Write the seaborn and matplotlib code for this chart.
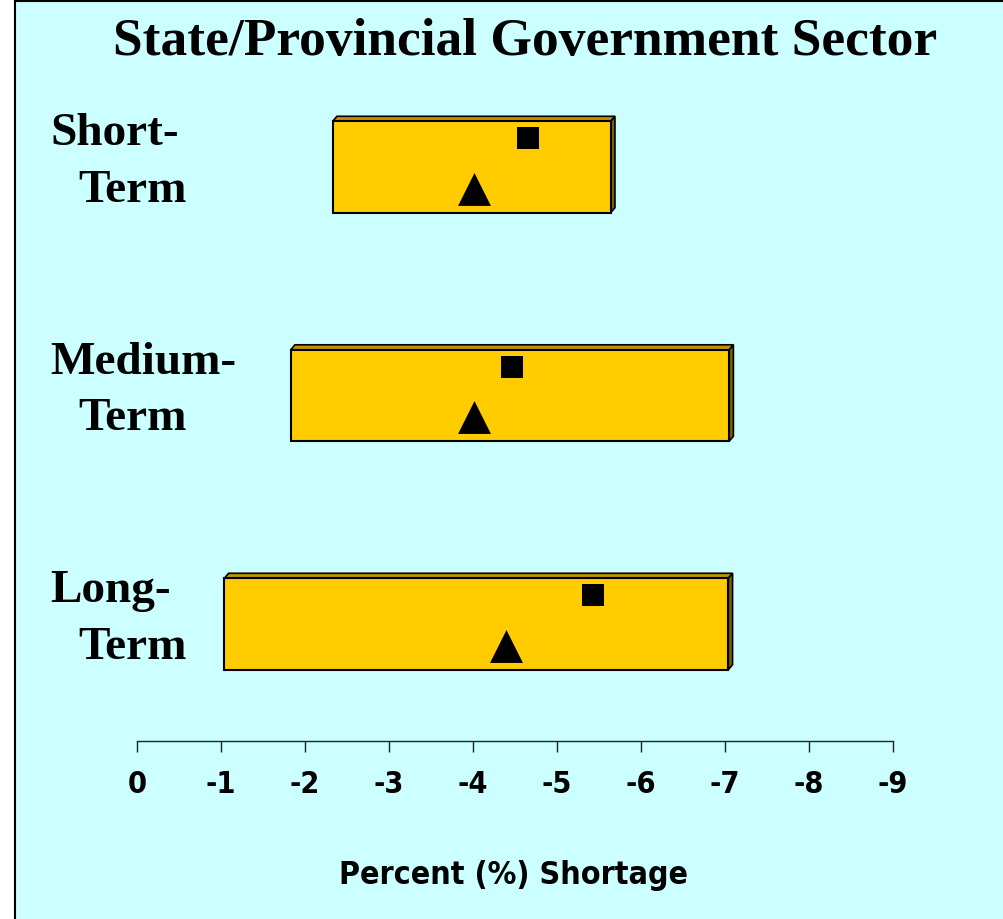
import matplotlib
matplotlib.use("Agg")
import matplotlib.pyplot as plt
from matplotlib.patches import Polygon, Rectangle
from matplotlib.lines import Line2D
import pandas as pd
import seaborn as sns

# ─── Data ─────────────────────────────────────────────────────────
TERMS = ["Short-Term", "Medium-Term", "Long-Term"]
TERM_LINES = [("Short-", "Term"), ("Medium-", "Term"), ("Long-", "Term")]
RANGE_LOW = [2.33, 1.83, 1.04]       # shortage magnitude, % (shown as negative)
RANGE_HIGH = [5.64, 7.05, 7.04]
SQUARE_VALS = [4.66, 4.47, 5.43]
TRIANGLE_VALS = [4.01, 4.01, 4.39]
TICKS = list(range(10))
TICK_LABELS = ["0"] + [f"-{t}" for t in range(1, 10)]

TITLE = "State/Provincial Government Sector"
XLABEL = "Percent (%) Shortage"

BG = "#CCFFFF"
FRONT = "#FFCC00"
TOP = "#BF9000"
SIDE = "#7F6000"
SERIF = ["Liberation Serif", "DejaVu Serif"]
NARROW = ["DejaVu Sans"]

sns.set_style("white")
plt.rcParams["font.family"] = SERIF
plt.rcParams["text.color"] = "black"
plt.rcParams["xtick.color"] = "black"

W, H = 1004, 919
fig = plt.figure(figsize=(W / 100, H / 100), dpi=100, facecolor=BG)

# white strip + frame lines on the left / top
fig.patches.append(Rectangle((0, 0), 15 / W, 1, transform=fig.transFigure,
                             facecolor="white", edgecolor="none", zorder=0))
fig.lines.append(Line2D([15.5 / W, 15.5 / W], [0, 1], transform=fig.transFigure,
                        color="black", lw=1.5))
fig.lines.append(Line2D([15.5 / W, 1], [1 - 1 / H, 1 - 1 / H], transform=fig.transFigure,
                        color="black", lw=1.5))

ax = fig.add_axes([137 / W, (H - 741) / H, 756 / W, (741 - 53) / H])
ax.set_facecolor("none")

ypos = list(range(len(TERMS)))
bar_h = 0.40
dx, dy = 0.05, 0.022

# ─── Range bars with a small 3D lip ───────────────────────────────
ax.barh(ypos, [h - l for l, h in zip(RANGE_LOW, RANGE_HIGH)], left=RANGE_LOW,
        height=bar_h, color=FRONT, edgecolor="black", linewidth=1.5, zorder=2)
for y, lo, hi in zip(ypos, RANGE_LOW, RANGE_HIGH):
    top = y - bar_h / 2
    bot = y + bar_h / 2
    ax.add_patch(Polygon([(lo, top), (hi, top), (hi + dx, top - dy), (lo + dx, top - dy)],
                         closed=True, facecolor=TOP, edgecolor="black", lw=1.2, zorder=1))
    ax.add_patch(Polygon([(hi, top), (hi + dx, top - dy), (hi + dx, bot - dy), (hi, bot)],
                         closed=True, facecolor=SIDE, edgecolor="black", lw=1.2, zorder=1))

# ─── Markers ──────────────────────────────────────────────────────
df_sq = pd.DataFrame({"value": SQUARE_VALS, "y": [y - 0.125 for y in ypos]})
df_tr = pd.DataFrame({"value": TRIANGLE_VALS, "y": [y + 0.096 for y in ypos]})
sns.scatterplot(data=df_sq, x="value", y="y", marker="s", s=250, color="black",
                linewidth=0, ax=ax, zorder=3)
sns.scatterplot(data=df_tr, x="value", y="y", marker="^", s=560, color="black",
                linewidth=0, ax=ax, zorder=3)

# ─── Axes styling ─────────────────────────────────────────────────
ax.set_xlim(0, 9)
ax.set_ylim(2.512, -0.499)
ax.set_xticks(TICKS)
ax.set_xticklabels(TICK_LABELS, fontfamily=NARROW, fontweight="bold",
                   fontstretch="condensed", fontsize=22)
ax.set_yticks([])
ax.set_xlabel("")
ax.set_ylabel("")
for side in ["left", "right", "top"]:
    ax.spines[side].set_visible(False)
ax.spines["bottom"].set_color("#222222")
ax.spines["bottom"].set_linewidth(1.0)
ax.tick_params(axis="x", direction="out", length=8, width=1.0, color="#222222",
               pad=13, bottom=True)

# category labels, two lines each
ytr = ax.get_yaxis_transform()
for y, (l1, l2) in zip(ypos, TERM_LINES):
    ax.text(-0.115, y - 0.096, l1, transform=ytr, ha="left", va="baseline",
            fontsize=34, fontweight="bold", fontfamily=SERIF)
    ax.text(-0.078, y + 0.153, l2, transform=ytr, ha="left", va="baseline",
            fontsize=34, fontweight="bold", fontfamily=SERIF)

fig.text(525 / W, 1 - 55 / H, TITLE, ha="center", va="baseline",
         fontsize=38.5, fontweight="bold", fontfamily=SERIF)
fig.text(514 / W, 1 - 884 / H, XLABEL, ha="center", va="baseline",
         fontsize=23, fontweight="bold", fontstretch="condensed", fontfamily=NARROW)

fig.savefig("out.png", dpi=100, facecolor=BG)
